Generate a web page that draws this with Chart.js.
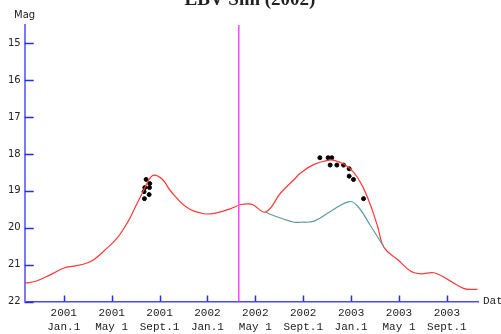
<!DOCTYPE html>
<html>
<head>
<meta charset="utf-8">
<script src="https://cdn.jsdelivr.net/npm/chart.js@4/dist/chart.umd.min.js"></script>
<style>
body{margin:0;background:#fff;}
canvas{display:block;}
</style>
</head>
<body>
<canvas id="lc" width="501" height="334"></canvas>
<script>
// x values are months since 2001 Jan.1, y values are magnitudes
const xTicks=[0,4,8,12,16,20,24,28,32];
const xYears=["2001","2001","2001","2002","2002","2002","2003","2003","2003"];
const xDays=["Jan.1","May 1","Sept.1","Jan.1","May 1","Sept.1","Jan.1","May 1","Sept.1"];
const yTicks=[15,16,17,18,19,20,21,22];

const redX=[-3.26,-2.34,-1.09,0.03,0.86,1.84,2.53,3.65,4.49,5.32,6.02,6.71,7.13,7.54,8.25,8.94,10.33,11.72,12.84,13.95,14.79,15.35,15.76,16.88,18.13,19.24,19.8,20.91,22.03,22.58,23.42,24.25,24.95,25.65,26.21,26.76,27.88,28.99,29.82,30.94,32.06,33.44,34.56];
const redY=[21.50,21.45,21.27,21.09,21.04,20.97,20.86,20.54,20.27,19.86,19.41,18.96,18.69,18.57,18.69,19.01,19.46,19.62,19.59,19.48,19.37,19.35,19.37,19.57,19.05,18.69,18.51,18.28,18.17,18.17,18.28,18.51,18.87,19.41,19.96,20.54,20.86,21.18,21.25,21.22,21.40,21.65,21.67];

const tealX=[16.88,17.29,18.40,19.24,19.8,20.91,22.31,23.84,24.54,25.65,26.71];
const tealY=[19.57,19.64,19.77,19.85,19.85,19.82,19.55,19.29,19.41,19.96,20.50];

const obsX=[6.88,7.18,6.77,7.16,6.71,7.13,6.74,21.39,22.08,22.39,22.25,22.81,23.37,23.84,23.84,24.20,25.04];
const obsY=[18.69,18.80,18.91,18.91,19.02,19.10,19.21,18.10,18.10,18.10,18.30,18.30,18.30,18.40,18.60,18.69,19.21];

const markX=14.62;
const yMin=14.5, yMax=22;

const pts=(xs,ys)=>xs.map((x,i)=>({x,y:ys[i]}));

// inward tick marks, axis names and the cut-off title
const extras={
  id:'extras',
  afterDraw(chart){
    const c=chart.ctx, xs=chart.scales.x, ys=chart.scales.y, a=chart.chartArea;
    c.save();
    c.strokeStyle='#2a2ae8'; c.lineWidth=1.5;
    yTicks.forEach(v=>{
      const p=Math.round(ys.getPixelForValue(v))+0.5;
      c.beginPath(); c.moveTo(a.left,p); c.lineTo(a.left+9,p); c.stroke();
    });
    xTicks.forEach(v=>{
      const p=Math.round(xs.getPixelForValue(v))+0.5;
      c.beginPath(); c.moveTo(p,a.bottom); c.lineTo(p,a.bottom-6); c.stroke();
    });
    c.fillStyle='#222';
    c.font='10px "DejaVu Sans"';
    c.textAlign='left'; c.textBaseline='alphabetic';
    c.fillText('Mag',14,18);
    c.font='11px "Liberation Mono"';
    c.textBaseline='middle';
    c.fillText('Date',a.right+5,a.bottom);
    c.font='bold 19px "Liberation Serif"';
    c.textAlign='center'; c.textBaseline='alphabetic';
    c.fillText('LBV Sim (2002)',250,5);
    c.restore();
  }
};

new Chart(document.getElementById('lc'),{
  type:'scatter',
  data:{datasets:[
    {data:pts([markX,markX],[yMin,yMax]),showLine:true,borderColor:'#ff44ff',borderWidth:1.5,pointRadius:0},
    {data:pts(tealX,tealY),showLine:true,borderColor:'#5e9c9c',borderWidth:1.2,pointRadius:0,tension:0.4},
    {data:pts(redX,redY),showLine:true,borderColor:'#ff3838',borderWidth:1.2,pointRadius:0,tension:0.4},
    {data:pts(obsX,obsY),backgroundColor:'#000',borderColor:'#000',pointRadius:2,pointStyle:'circle'}
  ]},
  options:{
    responsive:false,animation:false,
    layout:{padding:{left:4,right:23,top:25,bottom:-5}},
    plugins:{legend:{display:false},tooltip:{enabled:false}},
    scales:{
      x:{type:'linear',min:-3.26,max:34.6,
        afterBuildTicks:ax=>{ax.ticks=xTicks.map(v=>({value:v}));},
        grid:{display:false,drawTicks:false},
        border:{display:true,color:'#4a4af0',width:1.5},
        ticks:{autoSkip:false,maxRotation:0,padding:5,color:'#222',font:{family:'Liberation Mono',size:11,lineHeight:1.25},
          callback:(v)=>{const i=xTicks.indexOf(v);return i<0?'':[xYears[i],xDays[i]];}}
      },
      y:{type:'linear',reverse:true,min:yMin,max:yMax,
        afterBuildTicks:ax=>{ax.ticks=yTicks.map(v=>({value:v}));},
        grid:{display:false,drawTicks:false},
        border:{display:true,color:'#7a7aff',width:2},
        ticks:{padding:4,color:'#222',font:{family:'DejaVu Sans',size:10}}
      }
    }
  },
  plugins:[extras]
});
</script>
</body>
</html>
